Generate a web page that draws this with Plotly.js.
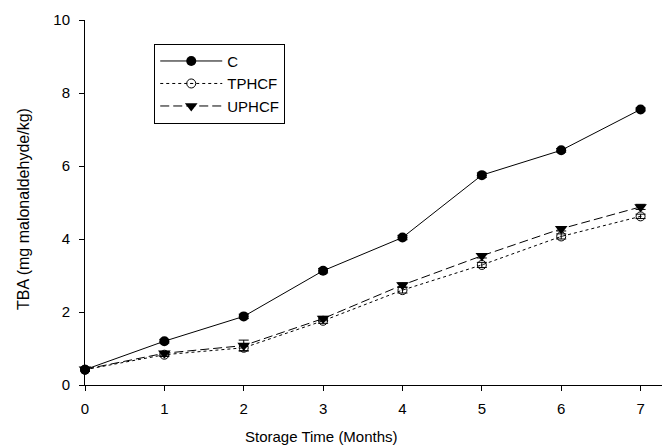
<!DOCTYPE html>
<html>
<head>
<meta charset="utf-8">
<script src="https://cdn.plot.ly/plotly-3.0.1.min.js"></script>
<style>html,body{margin:0;padding:0;background:#fff;}#chart{width:662px;height:448px;}</style>
</head>
<body>
<div id="chart"></div>
<script>
var months = [0, 1, 2, 3, 4, 5, 6, 7];
var C = [0.42, 1.20, 1.88, 3.13, 4.04, 5.75, 6.43, 7.55];
var C_err = [0.05, 0.05, 0.06, 0.06, 0.06, 0.06, 0.05, 0.04];
var TPHCF = [0.42, 0.83, 1.02, 1.76, 2.60, 3.29, 4.07, 4.62];
var TPHCF_err = [0.05, 0.05, 0.08, 0.07, 0.08, 0.07, 0.07, 0.06];
var UPHCF = [0.43, 0.87, 1.08, 1.82, 2.74, 3.54, 4.28, 4.88];
var UPHCF_err = [0.05, 0.05, 0.15, 0.06, 0.06, 0.06, 0.06, 0.07];
var xTicks = [0, 1, 2, 3, 4, 5, 6, 7];
var yTicks = [0, 2, 4, 6, 8, 10];

var FONT = 'Liberation Sans, Arial, sans-serif';
function eb(arr) { return {type: 'data', array: arr, visible: true, color: '#000', thickness: 1, width: 5}; }

var traces = [
  {x: months, y: C, name: 'C', type: 'scatter', mode: 'lines+markers', cliponaxis: false,
   line: {color: '#000', width: 1, dash: 'solid'},
   marker: {symbol: 'circle', size: 10, color: '#000'}, error_y: eb(C_err)},
  {x: months, y: TPHCF, name: 'TPHCF', type: 'scatter', mode: 'lines+markers', cliponaxis: false,
   line: {color: '#000', width: 1, dash: 'dot'},
   marker: {symbol: 'circle-open-dot', size: 9, color: '#000', line: {width: 1, color: '#000'}}, error_y: eb(TPHCF_err)},
  {x: months, y: UPHCF, name: 'UPHCF', type: 'scatter', mode: 'lines+markers', cliponaxis: false,
   line: {color: '#000', width: 1, dash: '9px,4px'},
   marker: {symbol: 'triangle-down', size: 11, color: '#000'}, error_y: eb(UPHCF_err)}
];

var layout = {
  width: 662, height: 448,
  margin: {l: 85, r: 0, t: 20, b: 63},
  paper_bgcolor: '#fff', plot_bgcolor: '#fff',
  font: {family: FONT, size: 15, color: '#000'},
  showlegend: true,
  legend: {x: 0.12, y: 0.935, xanchor: 'left', yanchor: 'top', bgcolor: '#fff',
           bordercolor: '#000', borderwidth: 1, font: {family: FONT, size: 15, color: '#000'},
           itemwidth: 62, entrywidth: 156, entrywidthmode: 'pixels', tracegroupgap: 0},
  xaxis: {range: [0, 7.27], tickvals: xTicks, ticktext: xTicks.map(String),
          showline: true, linecolor: '#000', linewidth: 1, ticks: 'outside', ticklen: 5,
          tickcolor: '#000', showgrid: false, zeroline: false, tickfont: {size: 15},
          ticklabelstandoff: 5},
  yaxis: {range: [0, 10], tickvals: yTicks, ticktext: yTicks.map(String),
          showline: true, linecolor: '#000', linewidth: 1, ticks: 'outside', ticklen: 5,
          tickcolor: '#000', showgrid: false, zeroline: false, tickfont: {size: 15},
          ticklabelstandoff: 6},
  annotations: [
    {text: 'Storage Time (Months)', xref: 'paper', yref: 'paper', x: (321 - 85) / 577, y: 0,
     yshift: -41, xanchor: 'center', yanchor: 'top', showarrow: false, font: {size: 15}},
    {text: 'TBA (mg malonaldehyde/kg)', xref: 'paper', yref: 'paper', x: 0, y: (385 - 209) / 365,
     xshift: -62, xanchor: 'center', yanchor: 'middle', textangle: -90, showarrow: false, font: {size: 16}}
  ]
};

Plotly.newPlot('chart', traces, layout, {displayModeBar: false, staticPlot: true});
</script>
</body>
</html>
